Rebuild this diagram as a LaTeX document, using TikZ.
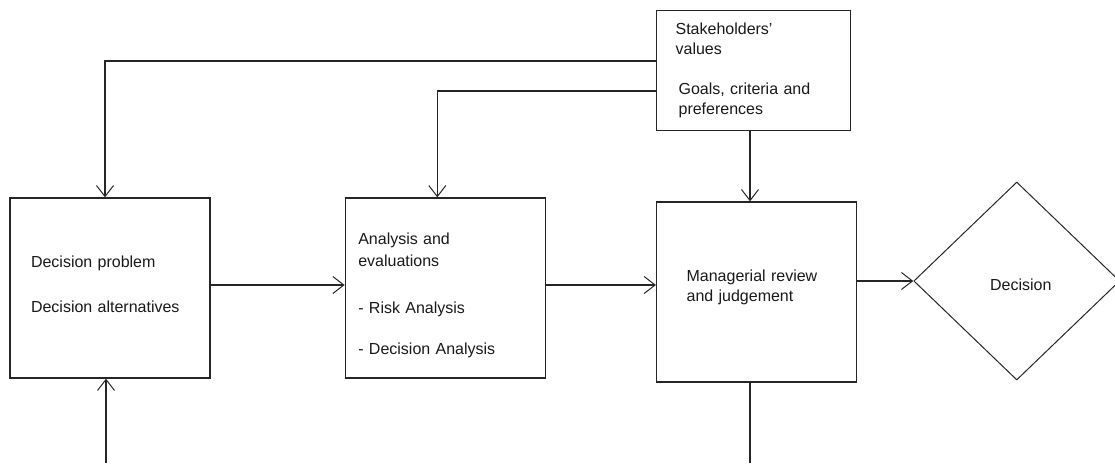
\documentclass[tikz,border=0pt]{standalone}
\usepackage{fontspec}
\setmainfont{Liberation Sans}
\usepackage{tikz}
\usetikzlibrary{shapes.geometric, arrows.meta, positioning}

\begin{document}
\begin{tikzpicture}[
    x=1pt, y=-1pt,
    box/.style={
        rectangle, draw=black!85, line width=1.3pt,
        minimum width=200pt, minimum height=180pt,
        text width=#1, align=left, text=black!90,
        font=\fontsize{16}{20}\selectfont
    },
    choice/.style={
        diamond, draw=black!85, line width=1pt, aspect=1.04,
        minimum width=206pt, minimum height=198pt, inner sep=0pt,
        text=black!90, font=\fontsize{16}{20}\selectfont
    },
    arrow/.style={-{Straight Barb[length=11pt, width=17pt, line width=1pt]}, draw=black!85, line width=1.2pt},
    link/.style={draw=black!85, line width=1.2pt}
]
\useasboundingbox (0,0) rectangle (1115,463);

% Row: problem -> analysis -> review -> decision
\node[box=158pt] (prob) at (110,288) {Decision problem\\[25pt]Decision alternatives\par\vspace*{8pt}};
\node[box=174pt, right=134pt of prob] (ana) {\rule{0pt}{26pt}Analysis and\\[2pt]evaluations\\[27pt]- Risk Analysis\\[21pt]- Decision Analysis};
\node[box=140pt, right=110pt of ana, yshift=-4pt] (mgr) {Managerial review\\and judgement\par\vspace*{10pt}};
\node[choice, right=56pt of mgr, yshift=11pt] (dec) {\hspace*{8pt}\raisebox{-9pt}[0pt][0pt]{Decision}};

% Values on top
\node[box=156pt, minimum width=194pt, minimum height=120pt,
      above right=70pt and 0pt of mgr.north west] (stake)
      {Stakeholders'\\values\\[20pt]\hspace*{3pt}Goals, criteria and\\\hspace*{3pt}preferences};

% Loose ends
\coordinate (inlet) at (106,463);
\coordinate (outlet) at (750,463);

% Arrows
\draw[arrow] (stake.west |- 0,61) -| ([xshift=-5pt]prob.north);
\draw[arrow] (stake.west |- 0,91) -| ([xshift=-8pt]ana.north);
\draw[arrow] (stake.south -| outlet) -- (mgr.north -| outlet);
\draw[arrow] (prob.east |- 0,285) -- (ana.west |- 0,285);
\draw[arrow] (ana.east |- 0,285) -- (mgr.west |- 0,285);
\draw[arrow] (mgr.east |- dec.west) -- (dec.west);
\draw[arrow] (inlet) -- (prob.south -| inlet);
\draw[link] (mgr.south -| outlet) -- (outlet);

\end{tikzpicture}
\end{document}
